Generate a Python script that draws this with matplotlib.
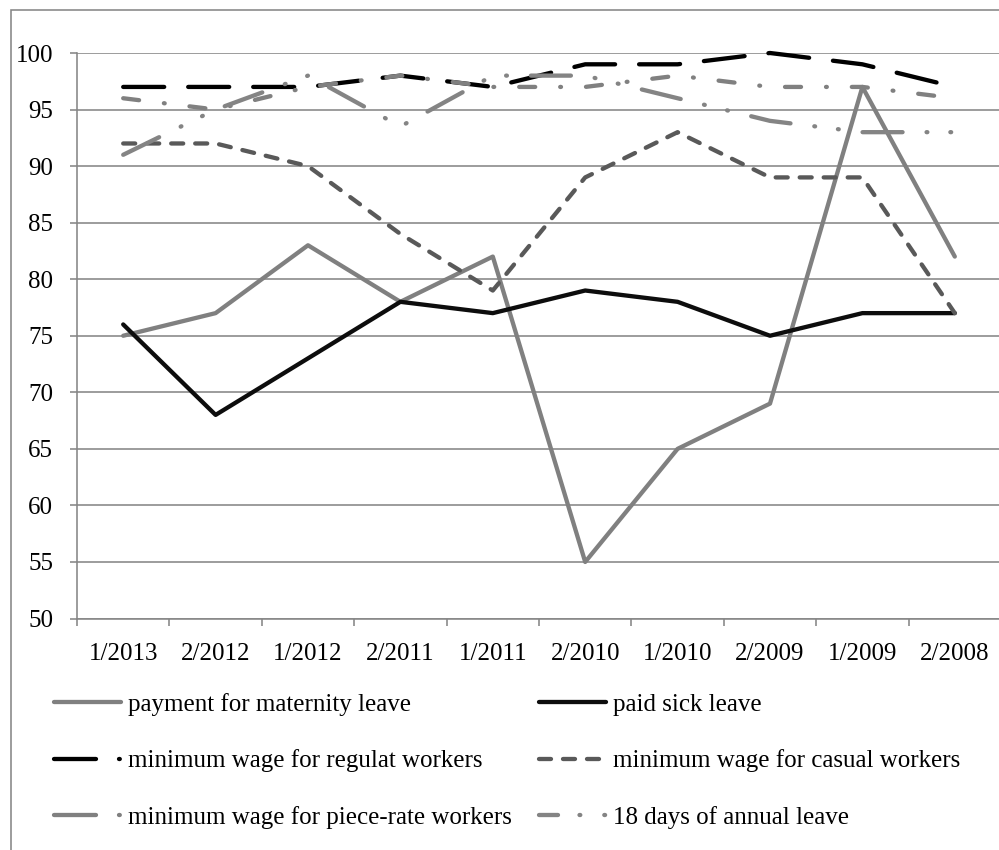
import numpy as np
import matplotlib
matplotlib.use("Agg")
import matplotlib.pyplot as plt
from matplotlib.lines import Line2D
from matplotlib.patches import Rectangle

# ---- data -------------------------------------------------------------
periods = ['1/2013', '2/2012', '1/2012', '2/2011', '1/2011',
           '2/2010', '1/2010', '2/2009', '1/2009', '2/2008']
maternity_leave = [75, 77, 83, 78, 82, 55, 65, 69, 97, 82]
paid_sick_leave = [76, 68, 73, 78, 77, 79, 78, 75, 77, 77]
min_wage_regular = [97, 97, 97, 98, 97, 99, 99, 100, 99, 97]
min_wage_casual = [92, 92, 90, 84, 79, 89, 93, 89, 89, 77]
min_wage_piece_rate = [96, 95, 97, 98, 97, 97, 98, 97, 97, 96]
annual_leave_18 = [91, 95, 98, 93.5, 98, 98, 96, 94, 93, 93]

series_labels = ['payment for maternity leave',
                 'paid sick leave',
                 'minimum wage for regulat workers',
                 'minimum wage for casual workers',
                 'minimum wage for piece-rate workers',
                 '18 days of annual leave']
y_ticks = list(range(50, 101, 5))

# ---- style ------------------------------------------------------------
plt.rcParams['font.family'] = ['Liberation Serif', 'DejaVu Serif']
plt.rcParams['lines.scale_dashes'] = False

W, H, DPI = 999, 850, 100
FS = 18
GRID = '#868686'


def px(v):
    """pixels -> points at 100 dpi"""
    return v * 72.0 / DPI


def dashes(*vals):
    return (0, tuple(px(v) for v in vals))


LW = px(4.3)
DOT = 0.8

fig = plt.figure(figsize=(W / DPI, H / DPI), dpi=DPI)
fig.patch.set_facecolor('white')

# outer chart frame
fig.add_artist(Rectangle((11 / W, -0.1), 1.2, 1 - 10 / H + 0.1,
                         transform=fig.transFigure, fill=False,
                         edgecolor=GRID, linewidth=px(1.6)))

left, right, top, bottom = 77, 1001, 53, 618.5
ax = fig.add_axes([left / W, 1 - bottom / H, (right - left) / W,
                   (bottom - top) / H])

x = np.arange(len(periods)) + 0.5

styles = [
    dict(color='#808080', linestyle='-'),
    dict(color='#0d0d0d', linestyle='-'),
    dict(color='#000000', linestyle=dashes(41, 24)),
    dict(color='#595959', linestyle=dashes(12, 12)),
    dict(color='#808080', linestyle=dashes(16, 25, DOT, 25)),
    dict(color='#848484', linestyle=dashes(40, 24, DOT, 23, DOT, 24)),
]
values = [maternity_leave, paid_sick_leave, min_wage_regular,
          min_wage_casual, min_wage_piece_rate, annual_leave_18]

for vals, st in zip(values, styles):
    ax.plot(x, vals, linewidth=LW, solid_capstyle='round',
            dash_capstyle='round', solid_joinstyle='round',
            dash_joinstyle='round', clip_on=False, **st)

ax.set_xlim(0, len(periods))
ax.set_ylim(50, 100)
ax.set_yticks(y_ticks)
ax.set_yticklabels([str(v) for v in y_ticks])
ax.yaxis.grid(True, color=GRID, linewidth=px(1.6))
ax.set_axisbelow(True)

ax.set_xticks(np.arange(len(periods) + 1))
ax.set_xticklabels([])
ax.set_xticks(x, minor=True)
ax.set_xticklabels(periods, minor=True)
ax.tick_params(axis='x', which='major', length=px(7), width=px(1.6),
               color=GRID, direction='out')
ax.tick_params(axis='x', which='minor', length=0, pad=px(24),
               labelsize=FS)
ax.tick_params(axis='y', length=px(7), width=px(1.6), color=GRID,
               direction='out', pad=px(17), labelsize=FS)

for side in ('top', 'right'):
    ax.spines[side].set_visible(False)
for side in ('left', 'bottom'):
    ax.spines[side].set_color(GRID)
    ax.spines[side].set_linewidth(px(1.6))

# legend keys
key_styles = [
    dict(color='#808080', linestyle='-'),
    dict(color='#000000', linestyle=dashes(42, 23, DOT, 60)),
    dict(color='#808080', linestyle=dashes(42, 23, DOT, 60)),
    dict(color='#0d0d0d', linestyle='-'),
    dict(color='#595959', linestyle=dashes(12, 12)),
    dict(color='#848484', linestyle=dashes(19, 21.5, DOT, 24, DOT, 60)),
]
key_labels = [series_labels[i] for i in (0, 2, 4, 1, 3, 5)]
handles = [Line2D([], [], linewidth=LW, solid_capstyle='round',
                  dash_capstyle='round', **st) for st in key_styles]

fs_px = FS * DPI / 72.0
fig.legend(handles, key_labels, ncol=2, loc='upper left',
           bbox_to_anchor=(54 / W, 1 - 693 / H), frameon=False,
           fontsize=FS, handlelength=67 / fs_px, handletextpad=7 / fs_px,
           labelspacing=1.34, columnspacing=27 / fs_px, borderpad=0,
           borderaxespad=0)

fig.savefig('out.png', dpi=DPI, facecolor='white')
